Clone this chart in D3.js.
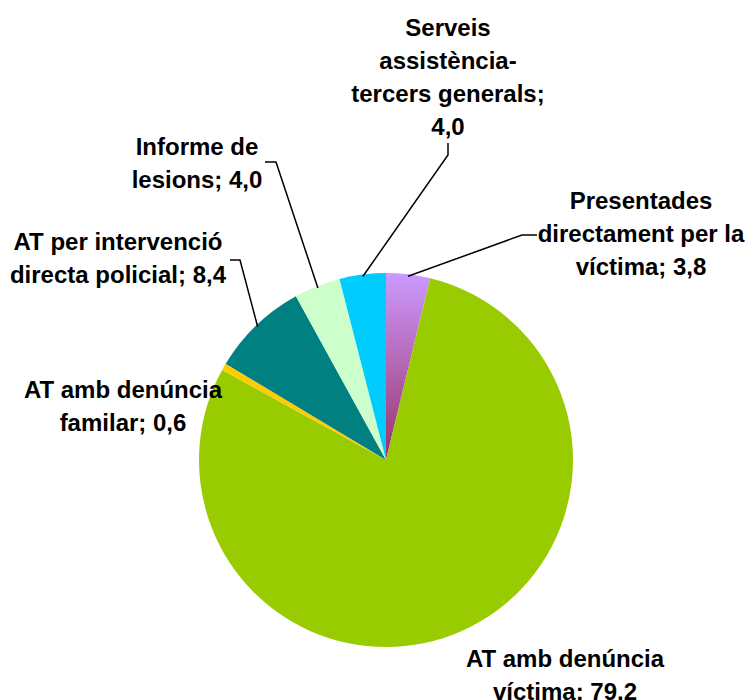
<!DOCTYPE html>
<html>
<head>
<meta charset="utf-8">
<script src="https://cdn.jsdelivr.net/npm/d3@7"></script>
<style>
  html, body { margin: 0; padding: 0; background: #fff; }
  svg { display: block; }
  text { font-family: "Liberation Sans", Arial, sans-serif; font-weight: bold; fill: #000; }
</style>
</head>
<body>
<svg id="chart" width="745" height="700"></svg>
<script>
// ---- Data ----
const categories = [
  "Presentades directament per la víctima",
  "AT amb denúncia víctima",
  "AT amb denúncia familar",
  "AT per intervenció directa policial",
  "Informe de lesions",
  "Serveis assistència-tercers generals"
];
const values = [3.8, 79.2, 0.6, 8.4, 4.0, 4.0];
const valueLabels = ["3,8", "79,2", "0,6", "8,4", "4,0", "4,0"];
const labelLines = [
  ["Presentades", "directament per la", "víctima; 3,8"],
  ["AT amb denúncia", "víctima; 79,2"],
  ["AT amb denúncia", "familar; 0,6"],
  ["AT per intervenció", "directa policial; 8,4"],
  ["Informe de", "lesions; 4,0"],
  ["Serveis", "assistència-", "tercers generals;", "4,0"]
];
const colors = ["url(#purpleGrad)", "#99CC00", "#FFCC00", "#008080", "#CCFFCC", "#00CCFF"];

// ---- Layout (positions of label blocks, not data) ----
const cx = 386, cy = 460, R = 187;
const lineH = 33;
const labelLayout = [
  { x: 641, y: 201, leader: { x: 537, y: 235, tick: -15 } },
  { x: 565, y: 659, leader: null },
  { x: 123, y: 390, leader: null },
  { x: 118, y: 242, leader: { x: 230, y: 260, tick: 10 } },
  { x: 197, y: 147, leader: { x: 265, y: 162, tick: 11 } },
  { x: 448, y: 28,  leader: { x: 448, y: 143, tick: 0, vertical: 12 } }
];

const svg = d3.select("#chart");
const defs = svg.append("defs");
const grad = defs.append("linearGradient")
  .attr("id", "purpleGrad")
  .attr("gradientUnits", "userSpaceOnUse")
  .attr("x1", 0).attr("y1", -R).attr("x2", 0).attr("y2", 0);
grad.append("stop").attr("offset", "0%").attr("stop-color", "#CC99FF");
grad.append("stop").attr("offset", "100%").attr("stop-color", "#993366");

const pie = d3.pie().sort(null).value(d => d)(values);
const arc = d3.arc().innerRadius(0).outerRadius(R);

const g = svg.append("g").attr("transform", `translate(${cx},${cy})`);
g.selectAll("path.slice")
  .data(pie)
  .join("path")
  .attr("class", "slice")
  .attr("d", arc)
  .attr("fill", (d, i) => colors[i]);

// Leader lines
pie.forEach((d, i) => {
  const L = labelLayout[i].leader;
  if (!L) return;
  const a = (d.startAngle + d.endAngle) / 2;
  const ex = cx + (R - 2) * Math.sin(a);
  const ey = cy - (R - 2) * Math.cos(a);
  const pts = [];
  if (L.vertical) {
    pts.push([L.x, L.y], [L.x, L.y + L.vertical], [ex, ey]);
  } else {
    pts.push([L.x, L.y], [L.x + L.tick, L.y], [ex, ey]);
  }
  svg.append("path")
    .attr("d", d3.line()(pts))
    .attr("fill", "none")
    .attr("stroke", "#000")
    .attr("stroke-width", 1.5);
});

// Labels
labelLines.forEach((lines, i) => {
  const pos = labelLayout[i];
  const t = svg.append("text")
    .attr("text-anchor", "middle")
    .attr("font-size", 24);
  lines.forEach((ln, k) => {
    t.append("tspan")
      .attr("x", pos.x)
      .attr("y", pos.y + k * lineH)
      .attr("dy", "0.35em")
      .text(ln);
  });
});
</script>
</body>
</html>
